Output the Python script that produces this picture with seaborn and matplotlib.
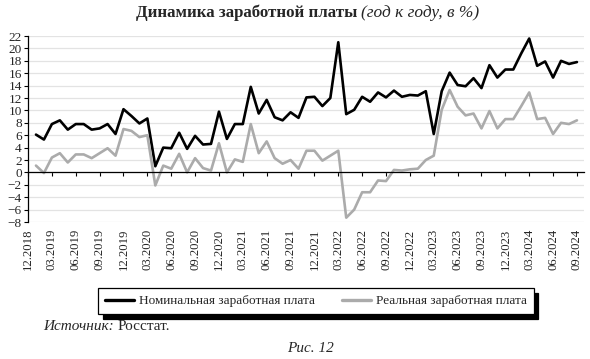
import numpy as np
import pandas as pd
import matplotlib
matplotlib.use("Agg")
import matplotlib.pyplot as plt
import seaborn as sns
from matplotlib.lines import Line2D

# ---- data -------------------------------------------------------------
tick_labels = ["12.2018", "03.2019", "06.2019", "09.2019", "12.2019", "03.2020",
               "06.2020", "09.2020", "12.2020", "03.2021", "06.2021", "09.2021",
               "12.2021", "03.2022", "06.2022", "09.2022", "12.2022", "03.2023",
               "06.2023", "09.2023", "12.2023", "03.2024", "06.2024", "09.2024"]

# monthly values, 01.2019 ... 09.2024
nominal = [6.1, 5.3, 7.8, 8.4, 6.9, 7.8, 7.8, 6.9, 7.1, 7.8, 6.2, 10.2,
           9.1, 7.9, 8.7, 1.0, 4.0, 3.9, 6.4, 3.8, 5.9, 4.5, 4.6, 9.8,
           5.4, 7.8, 7.8, 13.8, 9.5, 11.7, 8.9, 8.4, 9.7, 8.8, 12.1, 12.2,
           10.7, 12.0, 21.0, 9.4, 10.1, 12.2, 11.4, 12.9, 12.1, 13.2, 12.2, 12.5,
           12.4, 13.1, 6.2, 13.1, 16.1, 14.1, 13.9, 15.2, 13.6, 17.3, 15.3, 16.6,
           16.6, 19.2, 21.6, 17.2, 17.9, 15.3, 18.0, 17.5, 17.8]
real = [1.1, -0.1, 2.4, 3.1, 1.6, 2.9, 2.9, 2.3, 3.1, 3.9, 2.7, 7.0,
        6.7, 5.7, 6.0, -2.1, 1.1, 0.6, 3.0, 0.0, 2.3, 0.7, 0.3, 4.7,
        0.0, 2.1, 1.7, 7.8, 3.1, 5.0, 2.3, 1.4, 2.0, 0.6, 3.5, 3.5,
        1.9, 2.7, 3.5, -7.3, -6.0, -3.2, -3.2, -1.3, -1.4, 0.4, 0.3, 0.5,
        0.6, 2.0, 2.7, 10.1, 13.3, 10.6, 9.2, 9.5, 7.1, 9.9, 7.1, 8.6,
        8.6, 10.7, 12.9, 8.6, 8.8, 6.2, 8.0, 7.8, 8.4]

series_names = ["Номинальная заработная плата", "Реальная заработная плата"]
colors = {series_names[0]: "#000000", series_names[1]: "#ababab"}

months = np.arange(1, len(nominal) + 1)  # 0 = 12.2018
df = pd.concat([
    pd.DataFrame({"m": months, "v": nominal, "s": series_names[0]}),
    pd.DataFrame({"m": months, "v": real, "s": series_names[1]}),
])

# ---- figure -----------------------------------------------------------
sns.set_theme(style="white")
plt.rcParams["font.family"] = ["Liberation Serif", "DejaVu Serif"]

fig = plt.figure(figsize=(5.9, 3.59), dpi=100)
ax = fig.add_axes([0.0475, 0.3816, 0.9425, 0.518])

sns.lineplot(data=df, x="m", y="v", hue="s", palette=colors, linewidth=1.9,
             ax=ax, legend=False)

ax.set_xlim(0, 69.9)
ax.set_ylim(-8, 22)
ax.set_yticks(np.arange(-8, 23, 2))
ax.yaxis.grid(True, color="#e3e3e3", linewidth=0.9)
ax.xaxis.grid(False)
ax.set_axisbelow(True)
ax.set_xlabel("")
ax.set_ylabel("")

for sp in ["top", "right"]:
    ax.spines[sp].set_visible(False)
ax.spines["left"].set_color("black")
ax.spines["left"].set_linewidth(0.9)
ax.spines["bottom"].set_position(("data", 0))
ax.spines["bottom"].set_color("black")
ax.spines["bottom"].set_linewidth(0.9)

xt = np.arange(0, 70, 3)
ax.set_xticks(xt)
ax.tick_params(axis="x", direction="out", length=3, width=0.8, color="black",
               labelbottom=False, bottom=True)
ax.tick_params(axis="y", direction="out", length=3, width=0.8, color="black",
               left=True, labelsize=9.5, pad=1.5)

sec = ax.secondary_xaxis("bottom")
sec.set_xticks(xt)
sec.set_xticklabels(tick_labels, rotation=90, fontsize=9.2)
sec.tick_params(length=0, pad=5)
sec.spines["bottom"].set_visible(False)

# title
fig.text(357 / 590, 1 - 13 / 359, "Динамика заработной платы", ha="right",
         va="center", fontsize=12.2, fontweight="bold")
fig.text(361 / 590, 1 - 13 / 359, "(год к году, в %)", ha="left",
         va="center", fontsize=12.5, fontstyle="italic")

# legend
handles = [Line2D([], [], color=colors[n], linewidth=2.4) for n in series_names]
leg = fig.legend(handles, series_names, loc="center",
                 bbox_to_anchor=(316 / 590, 1 - 301 / 359), ncol=2,
                 frameon=True, fancybox=False, edgecolor="black",
                 shadow={"ox": 3.5, "oy": -3.5, "color": "black", "alpha": 1},
                 handlelength=2.2, columnspacing=2.0, fontsize=9.5,
                 borderpad=0.5, handletextpad=0.4, borderaxespad=0)
leg.get_frame().set_linewidth(0.9)
leg.get_frame().set_facecolor("white")

# source & caption
src_it = fig.text(43 / 590, 1 - 327 / 359, "Источник:", ha="left", va="center",
                  fontsize=11, fontstyle="italic")
fig.canvas.draw()
bb = src_it.get_window_extent(renderer=fig.canvas.get_renderer())
fig.text((bb.x1 + 4) / fig.bbox.width, 1 - 327 / 359, "Росстат.", ha="left",
         va="center", fontsize=11)
fig.text(310 / 590, 1 - 348 / 359, "Рис. 12", ha="center", va="center",
         fontsize=11, fontstyle="italic")

fig.savefig("out.png", dpi=100, facecolor="white")
